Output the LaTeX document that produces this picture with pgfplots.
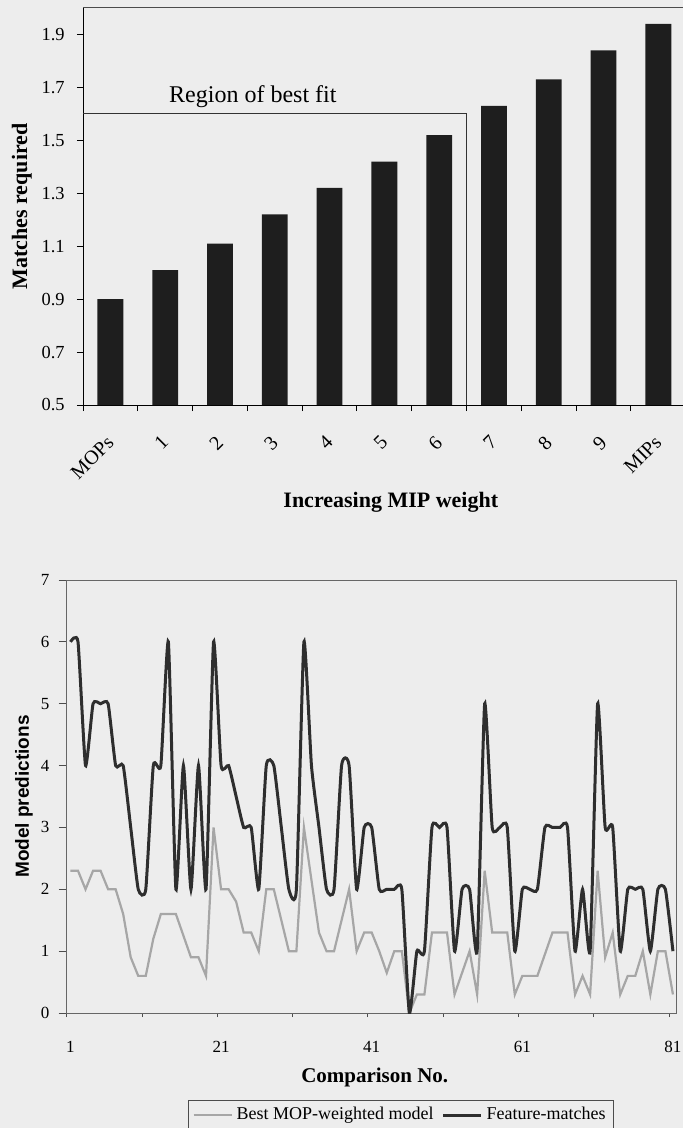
\documentclass[border=0pt]{standalone}
\usepackage{pgfplots}
\pgfplotsset{compat=1.18}
\usepackage{fontspec}
\setmainfont{Liberation Serif}
\setsansfont{Liberation Sans}

\definecolor{paper}{HTML}{EDEDED}
\definecolor{barblack}{HTML}{1E1E1E}
\definecolor{darkline}{HTML}{2E2E2E}
\definecolor{greyline}{HTML}{A6A6A6}

\begin{document}
\begin{tikzpicture}
\useasboundingbox (0,0) rectangle (341.5pt,-564pt);
\fill[paper] (0,0) rectangle (341.5pt,-564pt);

% top: bars
\begin{axis}[
  at={(41.5pt,-202.5pt)}, anchor=south west,
  scale only axis, width=300pt, height=198.5pt,
  xmin=-0.5, xmax=10.45, ymin=0.5, ymax=2.0,
  axis x line*=bottom, axis y line*=left,
  axis line style={-, black, line width=0.5pt},
  tick align=outside,
  major tick length=3pt, minor tick length=3pt,
  tick style={black, line width=0.5pt},
  xtick={0,...,10},
  xticklabels={MOPs,1,2,3,4,5,6,7,8,9,MIPs},
  major x tick style={draw=none},
  minor xtick={-0.5,0.5,...,9.5},
  xticklabel style={xshift=-2.5pt, yshift=-11.5pt, rotate=45, anchor=north east, inner sep=0pt, font=\fontsize{10}{11}\selectfont},
  ytick={0.5,0.7,0.9,1.1,1.3,1.5,1.7,1.9},
  /pgf/number format/assume math mode=true,
  yticklabel style={/pgf/number format/fixed, /pgf/number format/fixed zerofill, /pgf/number format/precision=1, font=\fontsize{9.2}{10}\selectfont, anchor=east, inner sep=0pt, xshift=-6pt},
  ylabel={Matches required},
  ylabel style={at={(axis description cs:-0.102,0.5)}, anchor=center, font=\bfseries\fontsize{11}{12}\selectfont},
  xlabel={Increasing MIP weight},
  xlabel style={at={(axis description cs:0.513,-0.244)}, anchor=center, font=\bfseries\fontsize{11}{12}\selectfont},
]
\addplot[ybar, bar width=12.9pt, fill=barblack, draw=none]
  coordinates {(0,0.90) (1,1.01) (2,1.11) (3,1.22) (4,1.32) (5,1.42) (6,1.52) (7,1.63) (8,1.73) (9,1.84) (10,1.94)};
\draw[black!70, line width=0.5pt] (rel axis cs:0,1) -- (rel axis cs:1,1);
\draw[black!80, line width=0.5pt] (axis cs:-0.5,1.6) -- (axis cs:6.5,1.6) -- (axis cs:6.5,0.5);
\node[font=\fontsize{12}{13}\selectfont] at (axis cs:2.6,1.665) {Region of best fit};
\end{axis}

% bottom: lines
\begin{axis}[
  at={(33.35pt,-506.5pt)}, anchor=south west,
  scale only axis, width=305pt, height=216.5pt,
  xmin=0.5, xmax=81.5, ymin=0, ymax=7,
  axis line style={black!60, line width=0.5pt},
  tick pos=left,
  tick align=outside, major tick length=4pt, minor tick length=2pt,
  tick style={black!70, line width=0.5pt},
  xtick={1,21,41,61,81},
  major x tick style={draw=none},
  minor xtick={0.5,10.5,...,80.5},
  /pgf/number format/assume math mode=true,
  xticklabel style={font=\fontsize{8.5}{9}\selectfont, anchor=north, inner sep=0pt, yshift=-10pt},
  ytick={0,...,7},
  yticklabel style={font=\fontsize{8.5}{9}\selectfont, anchor=east, inner sep=0pt, xshift=-4.5pt},
  xlabel={Comparison No.},
  xlabel style={at={(axis description cs:0.505,-0.148)}, anchor=center, font=\bfseries\fontsize{10.5}{12}\selectfont},
  ylabel={Model predictions},
  ylabel style={at={(axis description cs:-0.07,0.5)}, anchor=center, font=\sffamily\bfseries\fontsize{9.5}{11}\selectfont},
  legend style={at={(axis description cs:0.548,-0.201)}, anchor=north, legend columns=2, draw=black!70, fill=none,
    font=\fontsize{9}{10}\selectfont, inner xsep=2pt, inner ysep=1.5pt,
    /tikz/every even column/.append style={column sep=2pt}},
  legend image code/.code={\draw[#1] (0pt,0pt) -- (19pt,0pt);},
]
\addplot[greyline, line width=1.1pt, sharp plot, mark=none] coordinates {
(1,2.3) (2,2.3) (3,2.0) (4,2.3) (5,2.3) (6,2.0) (7,2.0) (8,1.6) (9,0.9) (10,0.6)
(11,0.6) (12,1.2) (13,1.6) (14,1.6) (15,1.6) (16,1.25) (17,0.9) (18,0.9) (19,0.6) (20,3.0)
(21,2.0) (22,2.0) (23,1.8) (24,1.3) (25,1.3) (26,1.0) (27,2.0) (28,2.0) (29,1.5) (30,1.0)
(31,1.0) (32,3.0) (33,2.15) (34,1.3) (35,1.0) (36,1.0) (37,1.5) (38,2.0) (39,1.0) (40,1.3)
(41,1.3) (42,1.0) (43,0.65) (44,1.0) (45,1.0) (46,0.0) (47,0.3) (48,0.3) (49,1.3) (50,1.3)
(51,1.3) (52,0.3) (53,0.65) (54,1.0) (55,0.3) (56,2.3) (57,1.3) (58,1.3) (59,1.3) (60,0.3)
(61,0.6) (62,0.6) (63,0.6) (64,0.95) (65,1.3) (66,1.3) (67,1.3) (68,0.3) (69,0.6) (70,0.3)
(71,2.3) (72,0.9) (73,1.3) (74,0.3) (75,0.6) (76,0.6) (77,1.0) (78,0.3) (79,1.0) (80,1.0)
(81,0.3)};
\addlegendentry{Best MOP-weighted model}
\addplot[darkline, line width=1.5pt, smooth, tension=0.3, mark=none] coordinates {
(1,6) (2,6) (3,4) (4,5) (5,5) (6,5) (7,4) (8,4) (9,3) (10,2)
(11,2) (12,4) (13,4) (14,6) (15,2) (16,4) (17,2) (18,4) (19,2) (20,6)
(21,4) (22,4) (23,3.5) (24,3) (25,3) (26,2) (27,4) (28,4) (29,3) (30,2)
(31,2) (32,6) (33,4) (34,3) (35,2) (36,2) (37,4) (38,4) (39,2) (40,3)
(41,3) (42,2) (43,2) (44,2) (45,2) (46,0) (47,1) (48,1) (49,3) (50,3)
(51,3) (52,1) (53,2) (54,2) (55,1) (56,5) (57,3) (58,3) (59,3) (60,1)
(61,2) (62,2) (63,2) (64,3) (65,3) (66,3) (67,3) (68,1) (69,2) (70,1)
(71,5) (72,3) (73,3) (74,1) (75,2) (76,2) (77,2) (78,1) (79,2) (80,2)
(81,1)};
\addlegendentry{Feature-matches}
\end{axis}
\end{tikzpicture}
\end{document}
